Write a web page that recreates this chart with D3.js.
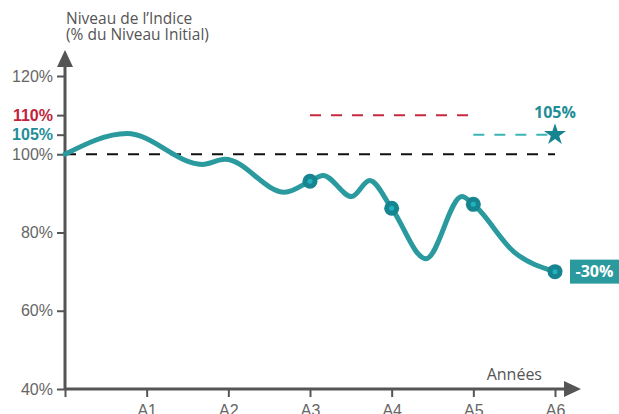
<!DOCTYPE html>
<html>
<head>
<meta charset="utf-8">
<script src="https://cdn.jsdelivr.net/npm/d3@7"></script>
<style>
  body { margin: 0; background: #fff; }
  svg { display: block; font-family: 'Open Sans', sans-serif; }
</style>
</head>
<body>
<svg id="chart" width="619" height="414"></svg>
<script>
// data
const years = ['A1', 'A2', 'A3', 'A4', 'A5', 'A6']
const yTicks = [40, 60, 80, 100, 120]
const pathT = [0, 0.76, 1.68, 1.96, 2.69, 3.0, 3.16, 3.51, 3.73, 4.0, 4.42, 4.86, 5.0, 5.5, 6.0]
const pathValues = [100, 105.3, 97.4, 98.7, 90.3, 93.1, 94.6, 89.2, 93.3, 86.2, 73.3, 89.2, 87.2, 75, 70]
const markerT = [3, 4, 5, 6]
const markerValues = [93.1, 86.2, 87.2, 70]
const barrier = 110
const coupon = 105
const finalLabel = '-30%'

const svg = d3.select('#chart')
const axisColor = '#555'
const teal = '#2a9a9e'

// scales
const x = d3.scaleLinear().domain([0, 6]).range([65, 555])
const y = d3.scaleLinear().domain([40, 120]).range([389, 76])

// y axis
const gy = svg.append('g')
	.attr('transform', 'translate(65,0)')
	.call(d3.axisLeft(y).tickValues(yTicks.concat([barrier, coupon])).tickFormat(d => d + '%').tickSize(8).tickPadding(4).tickSizeOuter(0))
gy.select('.domain').remove()
gy.selectAll('line').attr('stroke', axisColor).attr('stroke-width', 2)
gy.selectAll('text').style('font-size', '16px').attr('fill', '#666')
gy.selectAll('.tick').filter(d => d === barrier).select('text').attr('fill', '#c0223a').style('font-weight', 'bold')
gy.selectAll('.tick').filter(d => d === coupon).select('text').attr('fill', '#1f8e96').style('font-weight', 'bold')

// x axis
const gx = svg.append('g')
	.attr('transform', 'translate(0,389)')
	.call(d3.axisBottom(x).tickValues(d3.range(0, 7)).tickFormat(i => i ? years[i - 1] : '').tickSize(8).tickPadding(8).tickSizeOuter(0))
gx.select('.domain').remove()
gx.selectAll('line').attr('stroke', axisColor).attr('stroke-width', 2)
gx.selectAll('text').style('font-size', '16px').attr('fill', '#666')

// axis lines with arrows
svg.append('line').attr('x1', 65).attr('x2', 65).attr('y1', 389).attr('y2', 60)
	.attr('stroke', axisColor).attr('stroke-width', 3)
svg.append('path').attr('d', 'M65,50 L57,67 L73,67 Z').attr('fill', axisColor)
svg.append('line').attr('x1', 65).attr('x2', 570).attr('y1', 389).attr('y2', 389)
	.attr('stroke', axisColor).attr('stroke-width', 3)
svg.append('path').attr('d', 'M581,389 L564,381 L564,397 Z').attr('fill', axisColor)

// axis titles
svg.append('text').attr('x', 66).attr('y', 24).text('Niveau de l\u2019Indice')
	.style('font-size', '15.5px').attr('fill', '#555')
svg.append('text').attr('x', 66).attr('y', 40).text('(% du Niveau Initial)')
	.style('font-size', '15.5px').attr('fill', '#555')
svg.append('text').attr('x', 542).attr('y', 380).attr('text-anchor', 'end').text('Années')
	.style('font-size', '16px').attr('fill', '#555')

// reference lines
svg.append('line').attr('x1', x(0)).attr('x2', x(6)).attr('y1', y(100)).attr('y2', y(100))
	.attr('stroke', '#111').attr('stroke-width', 2).attr('stroke-dasharray', '11,10')
svg.append('line').attr('x1', x(3)).attr('x2', x(5)).attr('y1', y(barrier)).attr('y2', y(barrier))
	.attr('stroke', '#c8283f').attr('stroke-width', 2).attr('stroke-dasharray', '11,10')
svg.append('line').attr('x1', x(5)).attr('x2', x(6)).attr('y1', y(coupon)).attr('y2', y(coupon))
	.attr('stroke', '#3ab5b5').attr('stroke-width', 2).attr('stroke-dasharray', '11,10')

// index path
const line = d3.line().x((d, i) => x(pathT[i])).y(d => y(d)).curve(d3.curveMonotoneX)
svg.append('path').datum(pathValues).attr('d', line)
	.attr('fill', 'none').attr('stroke', teal).attr('stroke-width', 5).attr('stroke-linecap', 'round')

// markers
svg.append('g').selectAll('circle').data(markerValues).join('circle')
	.attr('cx', (d, i) => x(markerT[i])).attr('cy', d => y(d)).attr('r', 7.5).attr('fill', '#17858f')
svg.append('g').selectAll('circle').data(markerValues).join('circle')
	.attr('cx', (d, i) => x(markerT[i])).attr('cy', d => y(d)).attr('r', 2.5).attr('fill', '#1db3c0')

// star + label
svg.append('path').attr('d', d3.symbol(d3.symbolStar, 150)())
	.attr('transform', `translate(${x(6)},${y(coupon)})`).attr('fill', '#17858f')
svg.append('text').attr('x', x(6)).attr('y', y(coupon) - 17).attr('text-anchor', 'middle')
	.text(coupon + '%').style('font-size', '16px').style('font-weight', 'bold').attr('fill', '#1f8e96')

// final performance tag
const last = markerValues[markerValues.length - 1]
svg.append('rect').attr('x', 570).attr('y', y(last) - 12).attr('width', 49).attr('height', 24).attr('fill', teal)
svg.append('text').attr('x', 594.5).attr('y', y(last)).attr('dy', '0.35em').attr('text-anchor', 'middle')
	.text(finalLabel).style('font-size', '16px').style('font-weight', 'bold').attr('fill', '#fff')
</script>
</body>
</html>
